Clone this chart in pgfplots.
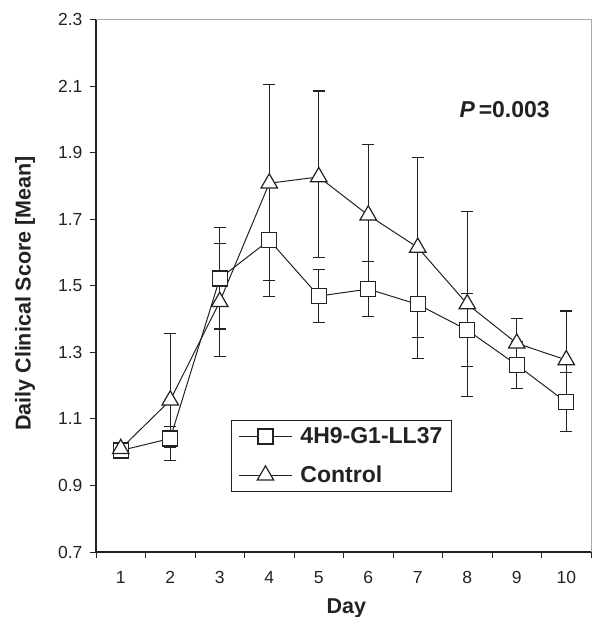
\documentclass[border=0pt]{standalone}
\usepackage{pgfplots}
\pgfplotsset{compat=1.18}
\usepackage{pgfplotstable}
\usepackage{fontspec}
\setmainfont{Liberation Sans}

\definecolor{ink}{HTML}{222222}
\definecolor{boxgray}{HTML}{A8A8A8}

% day, mean, error up, error down
\pgfplotstableread{
day mean ep em
1  1.005 0     0
2  1.041 0.037 0.065
3  1.522 0.152 0.152
4  1.637 0.170 0.170
5  1.469 0.080 0.080
6  1.490 0.082 0.082
7  1.444 0.162 0.162
8  1.367 0.110 0.110
9  1.262 0.070 0.070
10 1.150 0.089 0.089
}\treated

\pgfplotstableread{
day mean ep em
1  1.010 0     0
2  1.156 0.200 0.143
3  1.452 0.175 0.165
4  1.808 0.297 0.293
5  1.827 0.258 0.242
6  1.712 0.212 0.212
7  1.615 0.270 0.270
8  1.445 0.277 0.277
9  1.327 0.075 0.075
10 1.277 0.147 0.147
}\control

\begin{document}
\begin{tikzpicture}
\begin{axis}[
  scale only axis, width=495pt, height=532.5pt,
  xmin=0.5, xmax=10.5, ymin=0.7, ymax=2.3,
  clip=false,
  axis x line*=bottom, axis y line*=left,
  axis line style={ink, line width=1.1pt, -},
  tick align=outside, major tick length=6pt,
  tick style={ink, line width=1pt},
  ytick={0.7,0.9,1.1,1.3,1.5,1.7,1.9,2.1,2.3},
  yticklabel style={/pgf/number format/fixed, /pgf/number format/fixed zerofill,
    /pgf/number format/precision=1, xshift=-4pt},
  xtick={0.5,1.5,2.5,3.5,4.5,5.5,6.5,7.5,8.5,9.5,10.5},
  xticklabels={},
  extra x ticks={1,2,3,4,5,6,7,8,9,10},
  extra x tick style={major tick length=0pt, xticklabel style={yshift=-16pt}},
  /pgf/number format/assume math mode=true,
  tick label style={font=\fontsize{17.5}{20}\selectfont, text=ink},
  xlabel={Day}, ylabel={Daily Clinical Score [Mean]},
  label style={font=\bfseries\fontsize{21.5}{25}\selectfont, text=ink},
  xlabel style={at={(axis description cs:0.5058,-0.1151)}, anchor=base},
  ylabel style={at={(axis description cs:-0.1434,0.4856)}, anchor=center},
  legend style={at={(axis cs:3.227,1.096)}, anchor=north west, draw=ink, line width=1pt,
    font=\bfseries\fontsize{23}{26}\selectfont, text=ink, inner xsep=7pt, inner ysep=5pt,
    row sep=17pt, column sep=6pt},
  legend cell align=left,
  legend image code/.code={\draw[mark repeat=2, mark phase=2, #1] plot coordinates {(0pt,0pt) (26.5pt,0pt) (53pt,0pt)};},
]
% error bars first, so that the markers sit on top of them
\addplot[forget plot, draw=none, mark=none,
  error bars/.cd, y dir=both, y explicit,
  error bar style={draw=ink, line width=1.2pt},
  error mark options={draw=ink, rotate=90, mark size=6pt, line width=1.2pt}]
  table[x=day, y=mean, y error plus=ep, y error minus=em] {\treated};
\addplot[forget plot, draw=none, mark=none,
  error bars/.cd, y dir=both, y explicit,
  error bar style={draw=ink, line width=1.2pt},
  error mark options={draw=ink, rotate=90, mark size=6pt, line width=1.2pt}]
  table[x=day, y=mean, y error plus=ep, y error minus=em] {\control};

\addplot[ink, line width=1pt, mark=square*, mark size=7.5pt,
  mark options={fill=white, draw=ink, line width=1.2pt}]
  table[x=day, y=mean] {\treated};
\addlegendentry{4H9-G1-LL37}
\addplot[ink, line width=1pt, mark=triangle*, mark size=9.5pt,
  mark options={fill=white, draw=ink, line width=1.2pt}]
  table[x=day, y=mean] {\control};
\addlegendentry{Control}

\draw[boxgray, line width=1pt] (rel axis cs:0,1) -- (rel axis cs:1,1) -- (rel axis cs:1,0);
\node[anchor=base west, font=\bfseries\fontsize{23}{26}\selectfont, text=ink]
  at (axis cs:7.773,2.007) {\textit{P}\,=0.003};
\end{axis}
\pgfresetboundingbox
\path ([shift={(-96pt,-65pt)}]current axis.south west) rectangle ([shift={(7pt,19.5pt)}]current axis.north east);
\end{tikzpicture}
\end{document}
